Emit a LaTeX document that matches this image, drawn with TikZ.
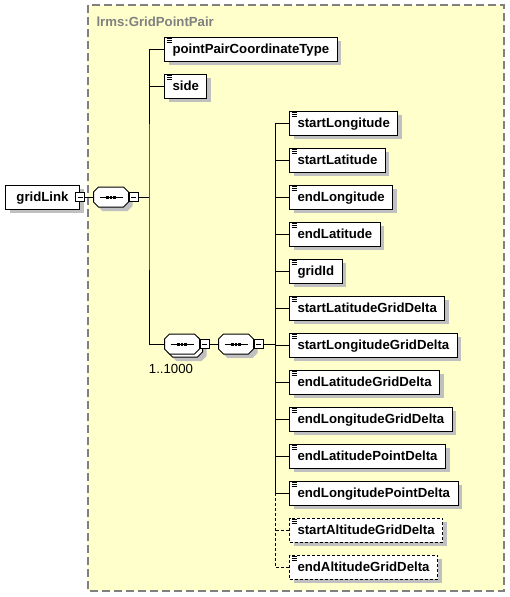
\documentclass[tikz,border=0pt]{standalone}
\usepackage{fontspec}
\setmainfont{Liberation Sans}
\usepackage{xcolor}
\usepackage{tikz}
\usetikzlibrary{positioning,calc,shadows}

\definecolor{panelfill}{RGB}{255,255,204}
\definecolor{shadowgray}{RGB}{192,192,192}
\definecolor{framegray}{RGB}{128,128,128}

% Đường viền bát giác quanh một nút
\newcommand{\octpath}[1]{([xshift=5pt]#1.north west) -- ([xshift=-5pt]#1.north east) -- ([yshift=-5pt]#1.north east)
  -- ([yshift=5pt]#1.south east) -- ([xshift=-5pt]#1.south east) -- ([xshift=5pt]#1.south west)
  -- ([yshift=5pt]#1.south west) -- ([yshift=-5pt]#1.north west) -- cycle}

\tikzset{
  box/.style={draw, line width=1pt, fill=white, font=\bfseries\fontsize{13.2}{15}\selectfont,
    minimum height=24pt, inner xsep=8pt, text height=11pt, text depth=2pt,
    drop shadow={shadow xshift=4pt, shadow yshift=-4pt, fill=shadowgray, opacity=1}},
  elem/.style={box, anchor=west,
    path picture={\foreach \k in {0,1,2}
      \draw[solid, line width=0.8pt] ([shift={(2pt,-1.5pt-2*\k pt)}]path picture bounding box.north west) -- ++(5pt,0);}},
  elemopt/.style={dash pattern=on 3pt off 2pt},
  oct/.style={inner sep=0pt, minimum width=34pt, minimum height=19pt},
  minus/.style={draw, line width=1pt, fill=white, minimum size=9pt, inner sep=0pt,
    path picture={\draw[line width=1pt] ([xshift=2pt]path picture bounding box.west) -- ([xshift=-2pt]path picture bounding box.east);}},
}

\begin{document}
\begin{tikzpicture}[x=1pt,y=-1pt,line width=1pt,font=\fontsize{13.2}{15}\selectfont]
  \useasboundingbox (0,0) rectangle (510,597);

  % Khung nền
  \draw[framegray, fill=panelfill, line width=1.5pt, dash pattern=on 8pt off 4pt] (88,5) rectangle (504,591);
  \node[anchor=west, inner sep=0pt, text=framegray, font=\bfseries\fontsize{13.2}{15}\selectfont] (title) at (96,21.5) {lrms:GridPointPair};

  % Phần tử gốc
  \node[box, anchor=west, minimum width=74pt] (gridlink) at (5,197) {gridLink};
  \node[minus] (gridlinkminus) at (gridlink.east) {};

  % Các nhóm sequence
  \node[oct] (seq1) at (111,197) {};
  \node[oct] (seq2) at (182,344) {};
  \node[oct] (seq3) at (236,344) {};

  \foreach \o/\s in {seq1/4,seq2/7,seq3/4} {
    \fill[shadowgray, transform canvas={shift={(\s pt,-\s pt)}}] \octpath{\o};
  }
  \draw[fill=white, transform canvas={shift={(3pt,-3pt)}}] \octpath{seq2};
  \foreach \o in {seq1,seq2,seq3} {
    \draw[fill=white] \octpath{\o};
    \draw ([xshift=6pt]\o.west) -- ([xshift=-6pt]\o.east);
    \foreach \d in {-3.5,0,3.5} { \fill ([shift={(\d pt-1.25pt,-1.5pt)}]\o.center) rectangle ++(2.5pt,3pt); }
  }

  \node[minus, anchor=west] (seq1minus) at (seq1.east) {};
  \node[minus, anchor=west] (seq2minus) at (seq2.east) {};
  \node[minus, anchor=west] (seq3minus) at (seq3.east) {};
  \node (seq2count) at (171,368.5) {1..1000};

  % Nhánh trái
  \node[elem] (ppct) at (164,49) {pointPairCoordinateType};
  \node[elem] (side) at (164,86) {side};

  \coordinate (busleft) at (149,197);
  \draw (ppct.west) -| (busleft) |- (seq2.west);
  \draw (side.west) -- (side.west -| busleft);
  \draw (gridlinkminus.east) -- (seq1.west);
  \draw (seq1minus.east) -- (busleft);

  % Nhánh phải
  \foreach \i/\t in {0/startLongitude,1/startLatitude,2/endLongitude,3/endLatitude,4/gridId,
      5/startLatitudeGridDelta,6/startLongitudeGridDelta,7/endLatitudeGridDelta,
      8/endLongitudeGridDelta,9/endLatitudePointDelta,10/endLongitudePointDelta} {
    \node[elem] (elem\i) at (289,{123+37*\i}) {\t};
  }
  \foreach \i/\t in {11/startAltitudeGridDelta,12/endAltitudeGridDelta} {
    \node[elem, elemopt] (elem\i) at (289,{123+37*\i}) {\t};
  }

  \coordinate (busright) at (275,344);
  \draw (seq2minus.east) -- (seq3.west);
  \draw (seq3minus.east) -- (busright);
  \draw (elem0.west -| busright) -- (elem10.west -| busright);
  \draw[elemopt] (elem10.west -| busright) -- (elem12.west -| busright);
  \foreach \i in {0,...,10} { \draw (elem\i.west) -- (elem\i.west -| busright); }
  \foreach \i in {11,12} { \draw[elemopt] (elem\i.west) -- (elem\i.west -| busright); }
\end{tikzpicture}
\end{document}
